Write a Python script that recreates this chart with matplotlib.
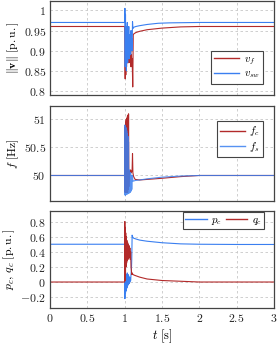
import matplotlib
matplotlib.use("Agg")
import matplotlib.pyplot as plt
from matplotlib.ticker import FuncFormatter

plt.rcParams['mathtext.fontset'] = 'cm'
plt.rcParams['font.family'] = ['DejaVu Serif']

RED = '#b22a2a'
BLUE = '#3a7ff0'

# ---- Panel 1: voltage magnitudes ----
t_vsw = [0, 1.0, 1.003, 1.007, 1.011, 1.015, 1.019, 1.023, 1.027, 1.031, 1.035, 1.04, 1.045,
         1.05, 1.055, 1.06, 1.065, 1.07, 1.075, 1.08, 1.085, 1.09, 1.095, 1.1, 1.105, 1.11,
         1.12, 1.15, 1.2, 1.3, 1.45, 1.6, 2.0, 3.0]
v_sw = [0.97, 0.97, 1.005, 0.86, 0.99, 0.88, 0.96, 0.85, 0.95, 0.89, 0.97, 0.87, 0.93,
        0.90, 0.96, 0.88, 0.94, 0.90, 0.93, 0.89, 0.95, 0.91, 0.93, 0.90, 0.972, 0.955,
        0.958, 0.960, 0.962, 0.965, 0.968, 0.969, 0.970, 0.970]

t_vf = [0, 1.0, 1.003, 1.007, 1.011, 1.015, 1.02, 1.025, 1.03, 1.035, 1.04, 1.045, 1.05,
        1.055, 1.06, 1.065, 1.07, 1.075, 1.08, 1.085, 1.09, 1.095, 1.1, 1.105, 1.108,
        1.115, 1.125, 1.15, 1.2, 1.3, 1.5, 1.75, 2.0, 2.5, 3.0]
v_f = [0.96, 0.96, 0.88, 0.83, 0.90, 0.84, 0.92, 0.86, 0.90, 0.87, 0.91, 0.88, 0.90,
       0.87, 0.92, 0.88, 0.91, 0.87, 0.90, 0.86, 0.89, 0.87, 0.88, 0.84, 0.81,
       0.94, 0.942, 0.945, 0.948, 0.952, 0.956, 0.959, 0.960, 0.960, 0.960]

# ---- Panel 2: frequencies ----
t_fc = [0, 1.0, 1.002, 1.005, 1.008, 1.011, 1.014, 1.017, 1.02, 1.024, 1.028, 1.032, 1.036,
        1.04, 1.044, 1.048, 1.052, 1.056, 1.06, 1.07, 1.08, 1.09, 1.1, 1.105, 1.11,
        1.12, 1.14, 1.2, 1.3, 1.5, 1.75, 2.0, 3.0]
f_c = [50, 50, 50.85, 49.7, 50.9, 49.7, 50.95, 49.7, 51.0, 49.7, 51.02, 49.7, 51.05,
       49.7, 51.08, 49.75, 51.1, 49.8, 50.08, 50.05, 50.1, 50.05, 50.1, 50.39, 50.05,
       49.98, 49.93, 49.92, 49.93, 49.95, 49.98, 50.0, 50.0]

t_fs = [0, 1.0, 1.002, 1.005, 1.008, 1.011, 1.014, 1.017, 1.02, 1.024, 1.028, 1.032, 1.036,
        1.04, 1.044, 1.048, 1.052, 1.056, 1.06, 1.065, 1.07, 1.075, 1.08, 1.085, 1.09,
        1.095, 1.1, 1.105, 1.11, 1.12, 1.14, 1.2, 1.3, 1.5, 1.75, 2.0, 3.0]
f_s = [50, 50, 50.9, 49.65, 50.88, 49.65, 50.85, 49.66, 50.85, 49.66, 50.8, 49.67, 50.75,
       49.67, 50.7, 49.68, 50.6, 49.68, 50.1, 49.7, 50.05, 49.7, 50.05, 49.72, 50.0,
       49.75, 49.95, 50.0, 49.9, 49.9, 49.91, 49.92, 49.94, 49.97, 49.99, 50.0, 50.0]

# ---- Panel 3: powers ----
t_pc = [0, 1.0, 1.003, 1.007, 1.011, 1.015, 1.02, 1.025, 1.03, 1.035, 1.04, 1.045, 1.05,
        1.055, 1.06, 1.065, 1.07, 1.075, 1.08, 1.085, 1.09, 1.095, 1.1, 1.105, 1.12,
        1.15, 1.2, 1.3, 1.5, 1.75, 2.0, 2.5, 3.0]
p_c = [0.5, 0.5, -0.22, 0.12, -0.15, 0.1, -0.12, 0.08, -0.08, 0.12, -0.05, 0.1, -0.03,
       0.08, -0.02, 0.06, 0.0, 0.05, 0.02, 0.1, 0.15, 0.3, 0.62, 0.6, 0.58,
       0.57, 0.555, 0.54, 0.52, 0.505, 0.5, 0.497, 0.497]

t_qc = [0, 1.0, 1.002, 1.005, 1.008, 1.011, 1.014, 1.018, 1.022, 1.026, 1.03, 1.035, 1.04,
        1.045, 1.05, 1.055, 1.06, 1.065, 1.07, 1.075, 1.08, 1.085, 1.09, 1.095, 1.1,
        1.11, 1.13, 1.2, 1.3, 1.5, 1.75, 2.0, 2.5, 3.0]
q_c = [0, 0, 0.8, 0.02, 0.72, 0.1, 0.65, 0.2, 0.6, 0.25, 0.55, 0.28, 0.52,
       0.3, 0.5, 0.32, 0.48, 0.33, 0.45, 0.3, 0.4, 0.2, 0.15, 0.1, 0.12,
       0.1, 0.09, 0.065, 0.04, 0.02, 0.01, 0.0, 0.0, 0.0]

x_ticks = [0, 0.5, 1, 1.5, 2, 2.5, 3]
y1_ticks = [0.8, 0.85, 0.9, 0.95, 1]
y2_ticks = [50, 50.5, 51]
y3_ticks = [-0.2, 0, 0.2, 0.4, 0.6, 0.8]

fig = plt.figure(figsize=(2.8, 3.44), dpi=100)
L, R = 50 / 280, 274 / 280
H = 344
boxes = [(0.7, 95), (106, 200.7), (211, 307.7)]
axes = []
for top, bot in boxes:
    ax = fig.add_axes([L, 1 - bot / H, R - L, (bot - top) / H])
    axes.append(ax)

fmt = FuncFormatter(lambda x, pos: "$%g$" % x)
FS = 8.5
for ax in axes:
    ax.set_xlim(0, 3)
    ax.set_xticks(x_ticks)
    ax.grid(True, color='#c8c8c8', linestyle=(0, (3, 3)), linewidth=0.6)
    ax.set_axisbelow(True)
    for s in ax.spines.values():
        s.set_color('#444444')
        s.set_linewidth(0.9)
    ax.tick_params(direction='in', length=0, labelsize=FS, pad=3, colors='#222222')
    ax.xaxis.set_major_formatter(fmt)
    ax.yaxis.set_major_formatter(fmt)

ax1, ax2, ax3 = axes
ax1.plot(t_vf, v_f, color=RED, lw=0.8, label=r'$v_f$')
ax1.plot(t_vsw, v_sw, color=BLUE, lw=0.8, label=r'$v_{sw}$')
ax1.set_ylim(0.79, 1.024)
ax1.set_yticks(y1_ticks)
ax1.set_ylabel(r'$\Vert\mathbf{v}\Vert\ [\mathrm{p.u.}]$', fontsize=FS, labelpad=2)
ax1.tick_params(labelbottom=False)

ax2.plot(t_fc, f_c, color=RED, lw=0.8, label=r'$f_c$')
ax2.plot(t_fs, f_s, color=BLUE, lw=0.8, alpha=0.85, label=r'$f_s$')
ax2.set_ylim(49.55, 51.24)
ax2.set_yticks(y2_ticks)
ax2.set_ylabel(r'$f\ [\mathrm{Hz}]$', fontsize=FS, labelpad=2)
ax2.tick_params(labelbottom=False)

ax3.plot(t_pc, p_c, color=BLUE, lw=0.8, label=r'$p_c$')
ax3.plot(t_qc, q_c, color=RED, lw=0.8, label=r'$q_c$')
ax3.set_ylim(-0.34, 0.94)
ax3.set_yticks(y3_ticks)
ax3.set_ylabel(r'$p_c,\, q_c\ [\mathrm{p.u.}]$', fontsize=FS, labelpad=2)
ax3.set_xlabel(r'$t\ [\mathrm{s}]$', fontsize=FS + 0.5, labelpad=2)

LFS = 7.8
leg_kw = dict(fontsize=LFS, fancybox=False, framealpha=1, edgecolor='#444444',
              borderpad=0.3, labelspacing=0.15, handlelength=2.3, handletextpad=0.4)
l1 = ax1.legend(loc='lower right', bbox_to_anchor=(0.95, 0.12), borderaxespad=0, **leg_kw)
l2 = ax2.legend(loc='upper right', bbox_to_anchor=(0.95, 0.84), borderaxespad=0, **leg_kw)
l3 = ax3.legend(loc='upper right', bbox_to_anchor=(0.955, 0.985), borderaxespad=0, ncol=2,
                columnspacing=0.3, **dict(leg_kw, handlelength=2.0, borderpad=0.2))
for lg in (l1, l2, l3):
    lg.get_frame().set_linewidth(0.8)
    for h in lg.get_lines():
        h.set_linewidth(1.0)

fig.savefig('out.png', dpi=100)
